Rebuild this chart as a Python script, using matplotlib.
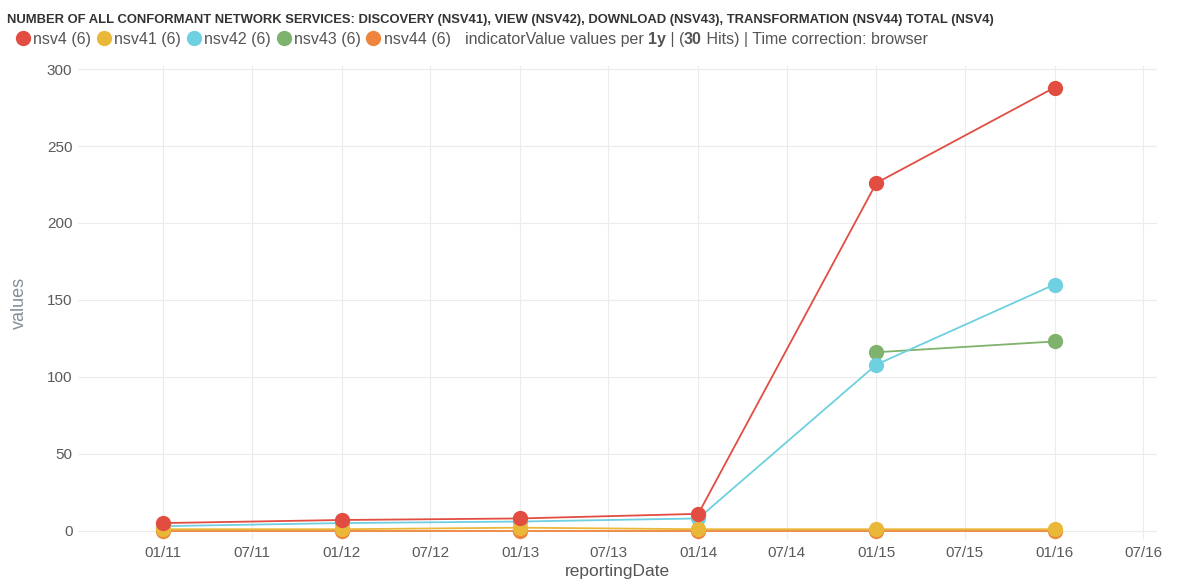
import numpy as np
import matplotlib.pyplot as plt
import matplotlib.dates as mdates
from matplotlib.lines import Line2D
import datetime as dt

plt.rcParams['font.family'] = ['Liberation Sans', 'DejaVu Sans']

dates = [dt.date(y, 1, 1) for y in range(2011, 2017)]
nsv4 = [5, 7, 8, 11, 226, 288]
nsv41 = [1, 1, 2, 1, 1, 1]
nsv42 = [3, 5, 6, 8, 108, 160]
nsv43 = [np.nan, np.nan, np.nan, np.nan, 116, 123]
nsv44 = [0, 0, 0, 0, 0, 0]

series = [("nsv44", nsv44, "#ef843c"), ("nsv43", nsv43, "#7eb26d"),
          ("nsv42", nsv42, "#6ed0e0"), ("nsv41", nsv41, "#eab839"),
          ("nsv4", nsv4, "#e24d42")]
legend_order = ["nsv4", "nsv41", "nsv42", "nsv43", "nsv44"]
colors = {name: c for name, _, c in series}

fig = plt.figure(figsize=(11.82, 5.84), dpi=100)
ax = fig.add_axes([78 / 1182, 1 - 540 / 584, (1157 - 78) / 1182, (540 - 66) / 584])

for name, vals, c in series:
    ax.plot(dates, vals, "-", color=c, lw=1.3, marker="o", ms=11,
            markeredgewidth=0, zorder=3)

ax.set_xlim(dt.date(2010, 7, 10), dt.date(2016, 7, 29))
ax.set_ylim(-6, 302)
ax.set_yticks(np.arange(0, 301, 50))
ax.xaxis.set_major_locator(mdates.MonthLocator(bymonth=[1, 7]))
ax.xaxis.set_major_formatter(mdates.DateFormatter("%m/%y"))
ax.grid(True, color="#ececec", lw=0.8)
for s in ax.spines.values():
    s.set_visible(False)
ax.tick_params(length=0, colors="#5a5a5a", labelsize=11, pad=4)
ax.set_xlabel("reportingDate", color="#555555", fontsize=12.5, labelpad=3)
ax.set_ylabel("values", color="#848e96", fontsize=13, labelpad=14)

fig.text(0.006, 0.965, "NUMBER OF ALL CONFORMANT NETWORK SERVICES: DISCOVERY (NSV41), VIEW (NSV42), "
         "DOWNLOAD (NSV43), TRANSFORMATION (NSV44) TOTAL (NSV4)",
         fontsize=9.4, fontweight="bold", color="#333333", va="center")

# legend row
x = 15
y = 1 - 38 / 584
yb = 1 - 44 / 584
for name in legend_order:
    fig.add_artist(Line2D([(x + 8) / 1182], [y], marker="o", ms=11, mew=0,
                          color=colors[name], transform=fig.transFigure))
    t = fig.text((x + 18) / 1182, yb, name + " (6)", color="#555555", fontsize=11.5, va="baseline")
    fig.canvas.draw()
    bb = t.get_window_extent()
    x = bb.x1 + 5
parts = [("  indicatorValue values per ", "normal"), ("1y", "bold"), (" | (", "normal"),
         ("30", "bold"), (" Hits) | Time correction: browser", "normal")]
for txt, w in parts:
    t = fig.text(x / 1182, yb, txt, color="#555555", fontsize=11.5, fontweight=w, va="baseline")
    fig.canvas.draw()
    x = t.get_window_extent().x1

fig.savefig("out.png", dpi=100)
